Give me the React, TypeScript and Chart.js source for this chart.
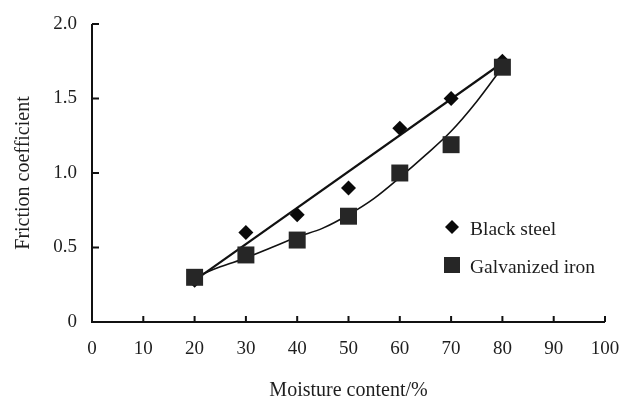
import React, { useEffect, useRef } from "react";
import { Chart, registerables } from "chart.js";

Chart.register(...registerables);

// ---- data ----
const moisture = [20, 30, 40, 50, 60, 70, 80];
const blackSteel = [0.28, 0.6, 0.72, 0.9, 1.3, 1.5, 1.75];
const galvanized = [0.3, 0.45, 0.55, 0.71, 1.0, 1.19, 1.71];

const blackTrendX = [20, 80];
const blackTrendY = [0.28, 1.74];
const galvTrendX = [20, 25, 30, 35, 40, 45, 50, 55, 60, 65, 70, 75, 80];
const galvTrendY = [0.3, 0.37, 0.43, 0.5, 0.57, 0.63, 0.72, 0.83, 0.97, 1.12, 1.28, 1.48, 1.71];

const xTicks = [0, 10, 20, 30, 40, 50, 60, 70, 80, 90, 100];
const yTicks = [0, 0.5, 1.0, 1.5, 2.0];
const seriesNames = ["Black steel", "Galvanized iron"];
const xTitle = "Moisture content/%";
const yTitle = "Friction coefficient";

const FONT = "'Liberation Serif', 'Times New Roman', serif";
const TEXT = "#1e1e1e";

const toPts = (xs: number[], ys: number[]) => xs.map((x, i) => ({ x, y: ys[i] }));

const axesPlugin = {
  id: "customAxes",
  afterDatasetsDraw(chart: any) {
    const { ctx, scales } = chart;
    const xs = scales.x;
    const ys = scales.y;
    const x0 = xs.getPixelForValue(xTicks[0]);
    const x1 = xs.getPixelForValue(xTicks[xTicks.length - 1]);
    const y0 = ys.getPixelForValue(yTicks[0]);
    const y1 = ys.getPixelForValue(yTicks[yTicks.length - 1]);
    ctx.save();
    ctx.strokeStyle = "#111";
    ctx.lineWidth = 2;
    ctx.beginPath();
    ctx.moveTo(x0, y1);
    ctx.lineTo(x0, y0);
    ctx.lineTo(x1, y0);
    ctx.stroke();
    ctx.beginPath();
    xTicks.slice(1).forEach((t) => {
      const px = xs.getPixelForValue(t);
      ctx.moveTo(px, y0);
      ctx.lineTo(px, y0 - 6);
    });
    yTicks.slice(1).forEach((t) => {
      const py = ys.getPixelForValue(t);
      ctx.moveTo(x0, py);
      ctx.lineTo(x0 + 7, py);
    });
    ctx.stroke();

    // legend
    const lx = 452;
    const rows = [227, 265];
    const ds0 = chart.data.datasets[0];
    const ds1 = chart.data.datasets[1];
    ctx.fillStyle = ds0.backgroundColor;
    ctx.beginPath();
    ctx.moveTo(lx - 7, rows[0]);
    ctx.lineTo(lx, rows[0] - 7);
    ctx.lineTo(lx + 7, rows[0]);
    ctx.lineTo(lx, rows[0] + 7);
    ctx.closePath();
    ctx.fill();
    ctx.fillStyle = ds1.backgroundColor;
    ctx.fillRect(lx - 8, rows[1] - 8, 16, 16);
    ctx.fillStyle = TEXT;
    ctx.font = `19.5px ${FONT}`;
    ctx.textAlign = "left";
    ctx.textBaseline = "alphabetic";
    ctx.fillText(seriesNames[0], 470, rows[0] + 7.5);
    ctx.fillText(seriesNames[1], 470, rows[1] + 7.5);
    ctx.restore();
  },
};

export default function App() {
  const ref = useRef<HTMLCanvasElement | null>(null);

  useEffect(() => {
    document.body.style.margin = "0";
    const canvas = ref.current;
    if (!canvas) return;
    const chart = new Chart(canvas, {
      type: "scatter",
      data: {
        datasets: [
          {
            label: seriesNames[0],
            data: toPts(moisture, blackSteel),
            pointStyle: "rectRot",
            pointRadius: 7.5,
            backgroundColor: "#0a0a0a",
            borderColor: "#0a0a0a",
            borderWidth: 0,
            order: 2,
          },
          {
            label: seriesNames[1],
            data: toPts(moisture, galvanized),
            pointStyle: "rect",
            pointRadius: 12,
            backgroundColor: "#262626",
            borderColor: "#262626",
            borderWidth: 0,
            order: 1,
          },
          {
            label: "Black steel trend",
            data: toPts(blackTrendX, blackTrendY),
            showLine: true,
            pointRadius: 0,
            borderColor: "#111",
            borderWidth: 2.2,
            order: 3,
          },
          {
            label: "Galvanized iron trend",
            data: toPts(galvTrendX, galvTrendY),
            showLine: true,
            pointRadius: 0,
            borderColor: "#111",
            borderWidth: 1.6,
            cubicInterpolationMode: "monotone",
            order: 3,
          },
        ],
      },
      options: {
        animation: false,
        responsive: false,
        layout: { padding: { top: 24, right: 18, left: 0, bottom: 0 } },
        plugins: {
          legend: { display: false },
          tooltip: { enabled: false },
        },
        scales: {
          x: {
            type: "linear",
            min: 0,
            max: 100,
            grid: { display: false, drawTicks: false },
            border: { display: false },
            afterBuildTicks: (s: any) => {
              s.ticks = xTicks.map((v) => ({ value: v }));
            },
            afterFit: (s: any) => {
              s.height = 79;
              s.paddingLeft = 0;
              s.paddingRight = 0;
            },
            ticks: {
              padding: 16,
              color: TEXT,
              font: { family: FONT, size: 19 },
              maxRotation: 0,
              callback: (v: any) => String(v),
            },
            title: {
              display: true,
              text: xTitle,
              color: TEXT,
              font: { family: FONT, size: 20, lineHeight: 1.0 },
              padding: { top: 0, bottom: 0 },
            },
          },
          y: {
            type: "linear",
            min: 0,
            max: 2,
            grid: { display: false, drawTicks: false },
            border: { display: false },
            afterBuildTicks: (s: any) => {
              s.ticks = yTicks.map((v) => ({ value: v }));
            },
            afterFit: (s: any) => {
              s.width = 92;
              s.paddingTop = 0;
              s.paddingBottom = 0;
            },
            ticks: {
              padding: 15,
              color: TEXT,
              font: { family: FONT, size: 19 },
              callback: (v: any) => (Number(v) === 0 ? "0" : Number(v).toFixed(1)),
            },
            title: {
              display: true,
              text: yTitle,
              color: TEXT,
              font: { family: FONT, size: 20 },
              padding: { top: 12, bottom: 0 },
            },
          },
        },
      },
      plugins: [axesPlugin],
    } as any);
    return () => chart.destroy();
  }, []);

  return (
    <div style={{ width: 623, height: 401 }}>
      <canvas ref={ref} width={623} height={401} style={{ display: "block" }} />
    </div>
  );
}
